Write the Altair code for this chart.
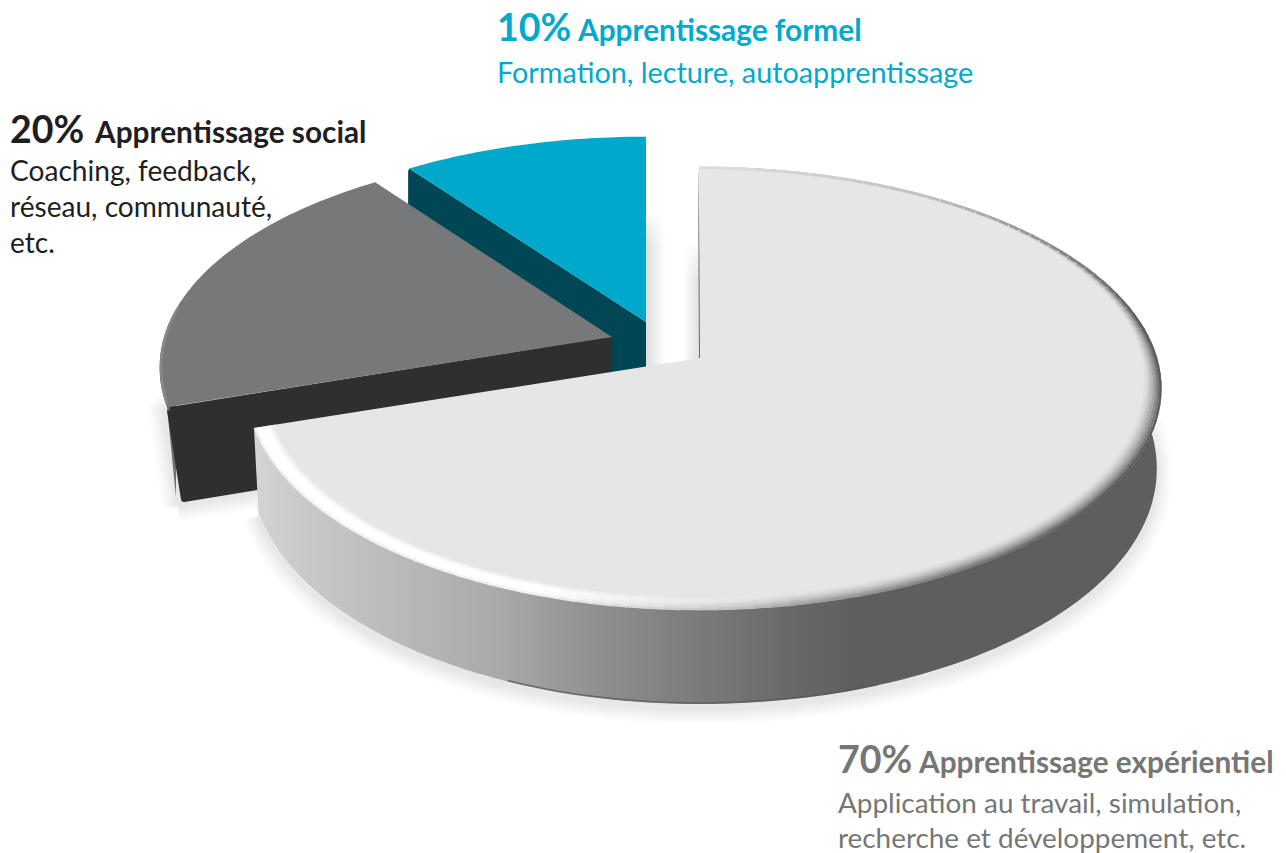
import math
import altair as alt
import pandas as pd

# Learning model: share of each mode, listed clockwise from twelve o'clock
shares = [70, 20, 10]
headings = ["Apprentissage expérientiel", "Apprentissage social", "Apprentissage formel"]
details = [
    ["Application au travail, simulation,", "recherche et développement, etc."],
    ["Coaching, feedback,", "réseau, communauté,", "etc."],
    ["Formation, lecture, autoapprentissage"],
]
text_colors = ["#767676", "#1f1f1f", "#00a9ce"]
top_colors = ["#e6e6e6", "#77787a", "#00a8cc"]
cut_colors = ["#6b6b6b", "#2e2f2f", "#004654"]

W, H = 1286, 853
RX_RIGHT, RX_LEFT, RY, K = 458.0, 448.0, 217.0, 0.138   # pie radii on screen and perspective strength
APEX = [(699, 358), (612, 337), (646, 322)]  # exploded slice tips
BACK = [1.0, 0.98, 0.972]                    # foreshortening of the far side per slice

# slice angles, measured clockwise from the top
angles = []
a = -90.0
for s in shares:
    angles.append((a, a + s * 3.6))
    a += s * 3.6


def ring(slice_i, deg, r=1.0):
    """Point of a slice's top face at a polar position, in perspective."""
    ax, ay = APEX[slice_i]
    t = math.radians(deg)
    u, v = r * math.cos(t), r * math.sin(t)
    w = 1 - K * v
    rx = RX_RIGHT if u > 0 else RX_LEFT
    ry = RY * (BACK[slice_i] if v < 0 else 1.0)
    return ax + rx * u / w, ay + ry * v / w


def below(p, deg, cx=700.0):
    """Same rim point on the underside of the main slice."""
    return p[0] - 0.01 * (p[0] - cx), p[1] + 78 + 16 * math.sin(math.radians(deg))


def arc(slice_i, d0, d1, n=120, r=1.0):
    return [ring(slice_i, d0 + (d1 - d0) * k / n, r) for k in range(n + 1)]


X = alt.X("x:Q", scale=alt.Scale(domain=[0, W], nice=False, zero=False), axis=None)
Y = alt.Y("y:Q", scale=alt.Scale(domain=[H, 0], nice=False, zero=False), axis=None)


def shape(points, fill, stroke=None, sw=0.0, opacity=1.0, join="round"):
    df = pd.DataFrame([{"x": p[0], "y": p[1], "i": i} for i, p in enumerate(points + points[:1])])
    props = {"fill": fill, "opacity": opacity, "strokeJoin": join, "interpolate": "linear"}
    props["stroke"] = stroke if stroke else "transparent"
    props["strokeWidth"] = sw
    return alt.Chart(df).mark_line(**props).encode(x=X, y=Y, order=alt.Order("i:Q"))


def path(points, color, sw, opacity=1.0):
    df = pd.DataFrame([{"x": p[0], "y": p[1], "i": i} for i, p in enumerate(points)])
    return alt.Chart(df).mark_line(color=color, strokeWidth=sw, opacity=opacity,
                                   strokeCap="round").encode(x=X, y=Y, order=alt.Order("i:Q"))


def hgrad(stops):
    return alt.Gradient(gradient="linear", x1=0, x2=1, y1=0, y2=0,
                        stops=[alt.GradientStop(offset=o, color=c) for o, c in stops])


def vgrad(stops):
    return alt.Gradient(gradient="linear", x1=0, x2=0, y1=0, y2=1,
                        stops=[alt.GradientStop(offset=o, color=c) for o, c in stops])


layers = []

# ---- soft ground shadows ----
main_start, main_end = angles[0]
front = [(d, ring(0, d)) for d in [main_end - (main_end + 15) * k / 140 for k in range(141)]]
main_under = [below(p, d) for d, p in front]
hub = (700, 440)
for sw in (30, 24, 18, 13, 8, 4):
    layers.append(shape([(x, y + 5) for x, y in main_under] + [hub], "#000000", "#000000", sw, 0.011))

g0, g1 = angles[1]
gc0 = ring(1, g0)
gap = APEX[1]
grey_under = [(gc0[0] + 14, gc0[1] + 95), (gap[0], gap[1] + 95), (gap[0], gap[1]), gc0]
for sw in (30, 24, 18, 13, 8, 4):
    layers.append(shape([(x - 3, y + 4) for x, y in grey_under], "#000000", "#000000", sw, 0.012))

# shadows falling in the gap between the exploded slices
tx, ty = ring(2, angles[2][1])
layers.append(shape([(tx, ty + 78), (tx + 20, ty + 78), (tx + 20, APEX[2][1] + 44), (tx, APEX[2][1] + 44)],
                    hgrad([(0, "#dedede"), (1, "#ffffff")])))
layers.append(shape([(tx, ty + 70), (tx + 20, ty + 70), (tx + 20, ty + 110), (tx, ty + 110)],
                    vgrad([(0, "#ffffff"), (1, "#ffffff00")])))
mx = APEX[0][0]
layers.append(shape([(mx - 16, 245), (mx, 245), (mx, 362), (mx - 16, 362)],
                    hgrad([(0, "#ffffff"), (1, "#e0e0e0")])))
layers.append(shape([(mx - 16, 240), (mx, 240), (mx, 280), (mx - 16, 280)],
                    vgrad([(0, "#ffffff"), (1, "#ffffff00")])))

# ---- 10 % slice ----
t0, t1 = angles[2]
tc = ring(2, t0)
tap = APEX[2]
layers.append(shape([tc, (tc[0] - 1, tc[1] + 3), (tc[0] - 1, tc[1] + 95), (tap[0], tap[1] + 95), (tap[0], tap[1])],
                    cut_colors[2]))
layers.append(shape([tap] + arc(2, t0, t1, 40), top_colors[2]))

# ---- 20 % slice ----
grey_rim = arc(1, g0, g0 + 26, 24)
layers.append(shape(grey_rim + [(gc0[0] + 9, gc0[1] + 90)], "#6d7073"))
layers.append(shape([(gc0[0] + 3, gc0[1] + 3), (gap[0] - 3, gap[1] + 3), (gap[0] - 3, gap[1] + 92),
                     (gc0[0] + 17, gc0[1] + 92)], cut_colors[1], cut_colors[1], 6))
layers.append(shape([gap] + arc(1, g0, g1, 60), top_colors[1]))
layers.append(path(arc(1, g0 + 1, g0 + 26, 24, 0.997), "#8b8e91", 2.5, 0.8))

# ---- 70 % slice ----
xmin, xmax = 255.0, 1160.0
wall_stops = [(0.0, "#d4d4d4"), (0.06, "#c8c8c8"), ((500 - xmin) / 905, "#a9a9a9"),
              ((600 - xmin) / 905, "#8f8f8f"), ((700 - xmin) / 905, "#7b7b7b"),
              ((800 - xmin) / 905, "#676767"), ((860 - xmin) / 905, "#5e5e5e"), (1.0, "#5e5e5e")]
wall_top = [p for _, p in front]
layers.append(shape(wall_top + main_under[::-1], hgrad(wall_stops)))
# darker lip along the underside of the front edge
lip = [below(ring(0, d), d) for d in range(112, 68, -2)]
layers.append(path([(x, y - 0.6) for x, y in lip], "#555555", 1.8, 0.7))

# thin sliver of the inner cut face at the back of the slice
layers.append(shape([(698, 172), (698.6, 172), (701.5, 358), (699, 358)],
                    vgrad([(0, "#c8c8c8"), (0.3, "#777777"), (1, "#666666")])))

main_face = [(700, 358)] + arc(0, main_start, main_end, 220)
layers.append(shape(main_face, top_colors[0]))


def lerp(c0, c1, f):
    f = max(0.0, min(1.0, f))
    return c0 + (c1 - c0) * f


def edge_tone(d):
    """Grey level the bevel reaches at a polar position on the rim."""
    pts = [(-90, 222), (-55, 190), (-30, 130), (-10, 92), (35, 92), (60, 125), (85, 175), (162, 175)]
    for (a0, v0), (a1, v1) in zip(pts, pts[1:]):
        if a0 <= d <= a1:
            return lerp(v0, v1, (d - a0) / (a1 - a0))
    return pts[-1][1]


# bevel on the rim of the 70 % face: small segments shaded from face colour to edge tone
rows = []
seg = 0
steps = 9
d_step = 2.0
d = main_start
while d < main_end:
    d2 = min(d + d_step + 0.3, main_end)
    mid = d + d_step / 2
    width = 0.042 * (0.12 if mid < -45 else lerp(0.12, 1.0, (mid + 45) / 60))
    tone = edge_tone(mid)
    white = lerp(0.0, 1.0, (mid - 78) / 30)
    for s in range(steps):
        f = s / (steps - 1)
        r = 0.998 - width * (1 - f)
        dark = lerp(230, tone, f ** 1.6)
        high = lerp(230, 255, f / 0.35) if f < 0.92 else lerp(255, 240, (f - 0.92) / 0.08)
        level = int(round(white * high + (1 - white) * dark))
        col = f"#{level:02x}{level:02x}{level:02x}"
        for dd in (d, d2):
            p = ring(0, dd, r)
            rows.append({"x": p[0], "y": p[1], "seg": seg, "c": col, "i": len(rows)})
        seg += 1
    d += d_step
layers.append(alt.Chart(pd.DataFrame(rows)).mark_line(strokeWidth=2.4, strokeCap="butt").encode(
    x=X, y=Y, detail="seg:N", order=alt.Order("i:Q"), color=alt.Color("c:N", scale=None)))


# ---- labels ----
def label(text, x, y, size, color, weight="normal"):
    df = pd.DataFrame([{"x": x, "y": y, "t": text}])
    return alt.Chart(df).mark_text(align="left", baseline="alphabetic", font="Lato", fontSize=size,
                                   fontWeight=weight, color=color).encode(x=X, y=Y, text="t:N")


PCT, HEAD = 37.5, 29.8
layers += [
    label(f"{shares[2]}%", 497, 41, PCT, text_colors[2], "bold"),
    label(headings[2], 578, 41, HEAD, text_colors[2], "bold"),
    label(details[2][0], 497, 83, 28.8, text_colors[2]),
    label(f"{shares[1]}%", 10, 143, PCT, text_colors[1], "bold"),
    label(headings[1], 95, 143, HEAD, text_colors[1], "bold"),
    label(details[1][0], 10, 181, 28.1, text_colors[1]),
    label(details[1][1], 10, 217, 28.1, text_colors[1]),
    label(details[1][2], 10, 253, 28.1, text_colors[1]),
    label(f"{shares[0]}%", 838, 773, PCT, text_colors[0], "bold"),
    label(headings[0], 919, 773, HEAD, text_colors[0], "bold"),
    label(details[0][0], 838, 813, 27.9, text_colors[0]),
    label(details[0][1], 838, 848, 27.9, text_colors[0]),
]

chart = alt.layer(*layers).properties(
    width=W, height=H, padding=0, autosize=alt.AutoSizeParams(type="none"), background="#ffffff"
).configure_view(stroke=None)

chart.save("out.html", embed_options={"renderer": "svg", "actions": False})
